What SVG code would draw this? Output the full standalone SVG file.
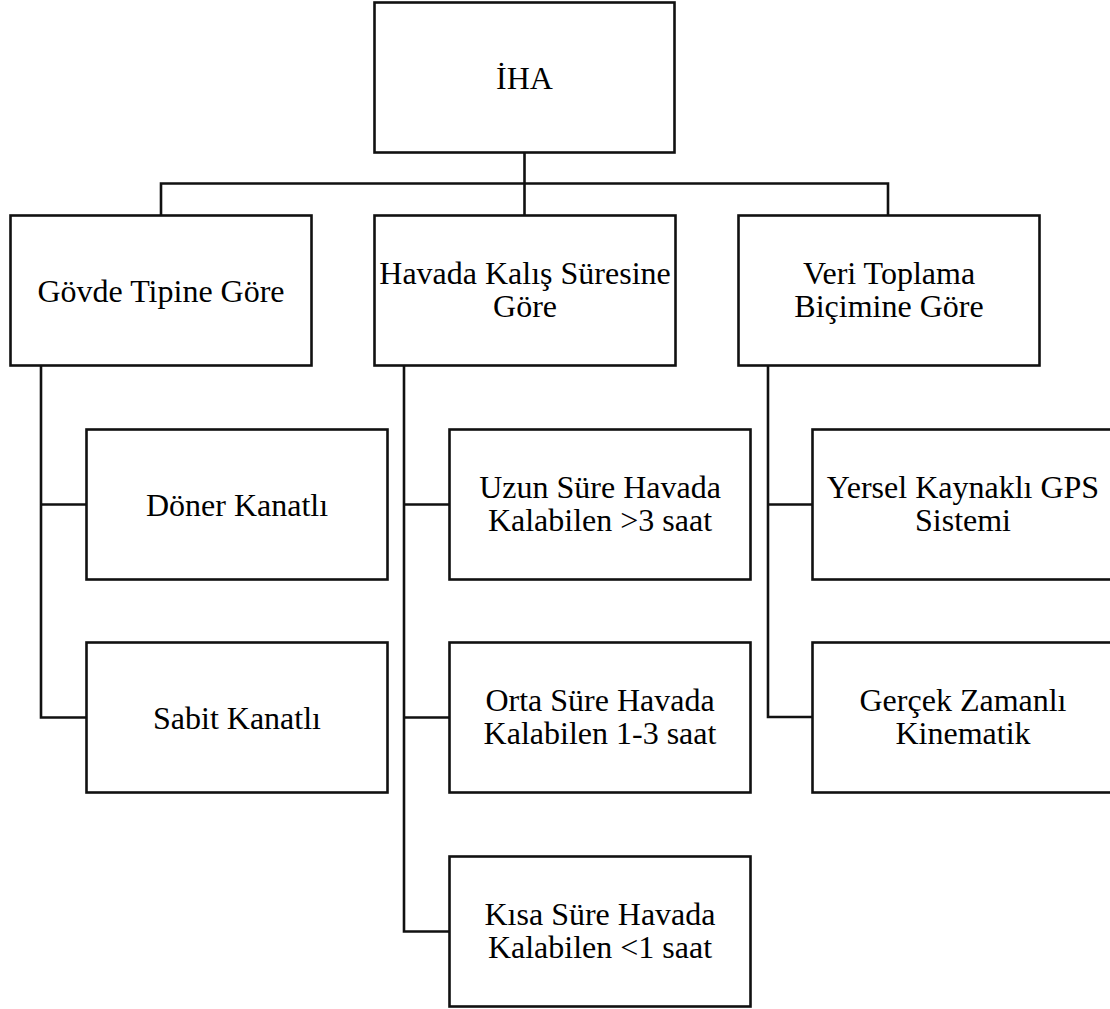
<svg xmlns="http://www.w3.org/2000/svg" width="1110" height="1009" viewBox="0 0 1110 1009">
<style>
.box{fill:#fff;stroke:#111;stroke-width:2.6}
.ln{fill:none;stroke:#111;stroke-width:2.6}
.t{font-size:32px;fill:#000;text-anchor:middle}
</style>
<rect width="1110" height="1009" fill="#fff"/>
<g id="connectors">
<path class="ln" d="M524.5 152.5V183.5M161 215.5V183.5H888V215.5M524.5 183.5V215.5"/>
<path class="ln" d="M41 365.5V717.5H86.5M41 504.5H86.5"/>
<path class="ln" d="M404 365.5V931.5H449.5M404 504.5H449.5M404 717.5H449.5"/>
<path class="ln" d="M768 365.5V717H812.5M768 504.5H812.5"/>
</g>
<g font-family="'Liberation Serif', 'DejaVu Serif', serif">
<g id="n-iha"><rect class="box" x="374.5" y="2.5" width="300" height="150"/><text class="t" x="524.5" y="88.5">İHA</text></g>
<g id="n-govde"><rect class="box" x="10.5" y="215.5" width="301" height="150"/><text class="t" x="161" y="301.5">Gövde Tipine Göre</text></g>
<g id="n-havada"><rect class="box" x="374.5" y="215.5" width="301" height="150"/><text class="t" x="525" y="284">Havada Kalış Süresine</text><text class="t" x="525" y="317">Göre</text></g>
<g id="n-veri"><rect class="box" x="738.5" y="215.5" width="301" height="150"/><text class="t" x="889" y="284">Veri Toplama</text><text class="t" x="889" y="317">Biçimine Göre</text></g>
<g id="n-doner"><rect class="box" x="86.5" y="429.5" width="301" height="150"/><text class="t" x="237" y="515.5">Döner Kanatlı</text></g>
<g id="n-sabit"><rect class="box" x="86.5" y="642.5" width="301" height="150"/><text class="t" x="237" y="728.5">Sabit Kanatlı</text></g>
<g id="n-uzun"><rect class="box" x="449.5" y="429.5" width="301" height="150"/><text class="t" x="600" y="498">Uzun Süre Havada</text><text class="t" x="600" y="531">Kalabilen &gt;3 saat</text></g>
<g id="n-orta"><rect class="box" x="449.5" y="642.5" width="301" height="150"/><text class="t" x="600" y="711">Orta Süre Havada</text><text class="t" x="600" y="744">Kalabilen 1-3 saat</text></g>
<g id="n-kisa"><rect class="box" x="449.5" y="856.5" width="301" height="150"/><text class="t" x="600" y="925">Kısa Süre Havada</text><text class="t" x="600" y="958">Kalabilen &lt;1 saat</text></g>
<g id="n-yersel"><rect class="box" x="812.5" y="429.5" width="301" height="150"/><text class="t" x="963" y="498">Yersel Kaynaklı GPS</text><text class="t" x="963" y="531">Sistemi</text></g>
<g id="n-gercek"><rect class="box" x="812.5" y="642.5" width="301" height="150"/><text class="t" x="963" y="711">Gerçek Zamanlı</text><text class="t" x="963" y="744">Kinematik</text></g>
</g>
</svg>
